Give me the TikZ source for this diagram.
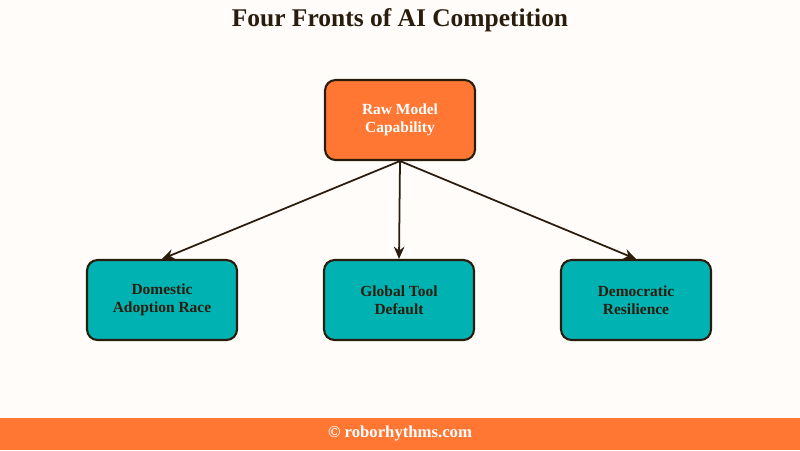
\documentclass[tikz,border=0pt]{standalone}
\usepackage{fontspec}
\setmainfont{Liberation Serif}
\usetikzlibrary{arrows.meta}
\definecolor{bg}{HTML}{FFFCFA}
\definecolor{org}{HTML}{FF7733}
\definecolor{teal}{HTML}{00B2B2}
\definecolor{edge}{HTML}{2B1D0E}
\begin{document}
\begin{tikzpicture}[x=0.02cm,y=-0.02cm,
  box/.style={draw=edge,line width=1.2pt,rounded corners=6pt,minimum width=3cm,minimum height=1.6cm,align=center,font=\bfseries\fontsize{8.8}{10}\selectfont,text=edge},
  arr/.style={-{Stealth[length=7pt,width=6pt]},draw=edge,line width=1pt}]
\fill[bg] (0,0) rectangle (800,450);
\useasboundingbox (0,0) rectangle (800,450);
\fill[org] (0,418) rectangle (800,450);
\node[font=\bfseries\fontsize{14.5}{17}\selectfont,text=edge] (title) at (400,20) {Four Fronts of AI Competition};
\node[font=\bfseries\fontsize{9.5}{11}\selectfont,text=white] (foot) at (400,434) {© roborhythms.com};
\node[box,fill=org,text=white] (top) at (400,120) {Raw Model\\Capability};
\node[box,fill=teal] (a) at (162,300) {Domestic\\Adoption Race};
\node[box,fill=teal] (b) at (399,300) {Global Tool\\Default};
\node[box,fill=teal] (c) at (636,300) {Democratic\\Resilience};
\draw[arr] (top.south) -- (a.north);
\draw[arr] (top.south) -- (b.north);
\draw[arr] (top.south) -- (c.north);
\end{tikzpicture}
\end{document}
